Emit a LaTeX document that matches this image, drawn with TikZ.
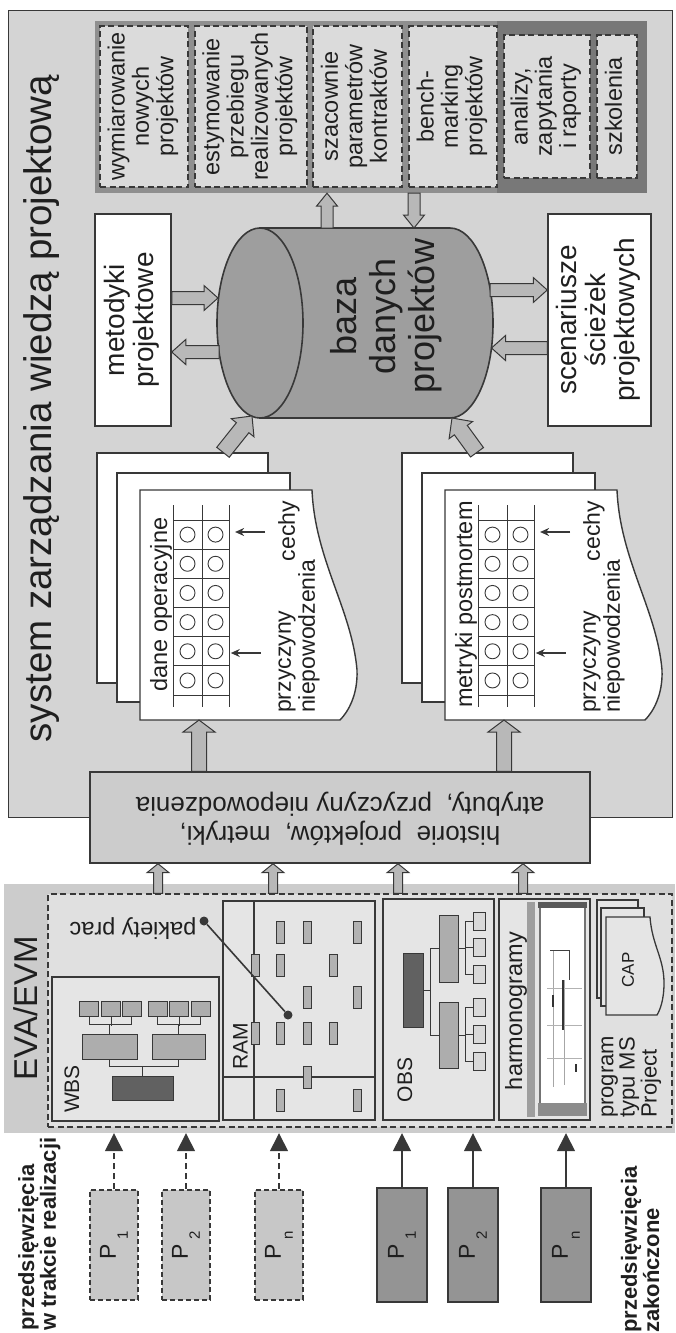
\documentclass[tikz,border=0pt]{standalone}
\usepackage{fontspec}
\setmainfont{Liberation Sans}
\usepackage{graphicx}
\definecolor{kwbg}{gray}{0.83}
\definecolor{kwpanel}{gray}{0.86}
\definecolor{kwframe}{gray}{0.56}
\definecolor{kwdark}{gray}{0.47}
\definecolor{kwdb}{gray}{0.62}
\definecolor{kwhist}{gray}{0.80}
\definecolor{kwhalo}{gray}{0.80}
\definecolor{kweva}{gray}{0.90}
\definecolor{kwpdash}{gray}{0.78}
\definecolor{kwpdone}{gray}{0.58}
\definecolor{kwline}{gray}{0.22}
\definecolor{kwtext}{gray}{0.12}
\usepackage{tikz}
\usetikzlibrary{arrows.meta,calc}
\newcommand{\vt}[2][c]{\rotatebox{90}{\begin{tabular}{@{}#1@{}}#2\end{tabular}}}
\newcommand{\psub}[1]{\rotatebox{90}{P\kern5pt\raisebox{-12pt}{\fontsize{15}{15}\selectfont #1}}}
% hollow arrow: from, to, shaft half width, head half width, head length
\newcommand{\fatarrow}[5]{%
  \coordinate (fa-b) at ($(#2)!#5!(#1)$);
  \draw[fatarr] ($(#1)!#3!90:(#2)$) -- ($(fa-b)!#3!90:(#2)$) -- ($(fa-b)!#4!90:(#2)$)
    -- (#2) -- ($(fa-b)!#4!-90:(#2)$) -- ($(fa-b)!#3!-90:(#2)$) -- ($(#1)!#3!-90:(#2)$) -- cycle;}

\begin{document}
\begin{tikzpicture}[x=1pt,y=-1pt,
  every node/.style={inner sep=0pt,text=kwtext},
  wh/.style 2 args={minimum width=#1pt,minimum height=#2pt},
  sysbox/.style={draw=kwline,line width=1pt,fill=kwbg},
  dbox/.style={draw=kwline,line width=1.4pt,dash pattern=on 6pt off 3.5pt,fill=kwpanel},
  wbox/.style={draw=kwline,line width=1.5pt,fill=white},
  panel/.style={draw=kwline,line width=1.4pt,fill=kweva},
  sheet/.style={draw=kwline,line width=1.4pt,fill=white},
  grid/.style={draw=kwline,line width=0.9pt},
  tree/.style={draw=kwline,line width=1pt},
  tn/.style={draw=kwline,line width=1pt,fill=black!32},
  bar/.style={draw=kwline,line width=1pt,fill=black!30,minimum width=8pt,minimum height=22pt},
  dot/.style={circle,fill=kwline,minimum size=9pt},
  fatarr/.style={draw=kwline,fill=black!28,line width=1pt},
  parr/.style={draw=kwline,line width=1.5pt,-{Triangle[length=18pt,width=18pt]}},
  smallarr/.style={draw=kwline,line width=1.2pt,-{Stealth[length=9pt,width=8pt]}},
  ftitle/.style={font=\fontsize{38.5}{40}\selectfont},
  fdb/.style={font=\fontsize{36}{39}\selectfont},
  fbig/.style={font=\fontsize{28}{29}\selectfont},
  fmid/.style={font=\fontsize{23.5}{24}\selectfont},
  fwhy/.style={font=\fontsize{23}{24}\selectfont},
  fhist/.style={font=\fontsize{26}{29}\selectfont},
  fsmall/.style={font=\fontsize{21}{21}\selectfont},
  flab/.style={font=\fontsize{22}{20}\selectfont\bfseries}]
\useasboundingbox (0,0) rectangle (675,1333);

% knowledge management system
\node[sysbox,wh={664}{807}] (sys) at (340,413.5) {};
\node[ftitle] (title) at (42,408.5) {\rotatebox{90}{system zarządzania wiedzą projektową}};

% applications
\node[wh={552}{172},fill=kwframe] (tools) at (371,107) {};
\node[wh={150}{172},fill=kwdark] (tools2) at (572,107) {};
\node[dbox,wh={88}{161},fmid] (b1) at (144,106.5) {\vt{wymiarowanie\\nowych\\projektów}};
\node[dbox,wh={112}{161},fmid] (b2) at (251,106.5) {\vt{estymowanie\\przebiegu\\realizowanych\\projektów}};
\node[dbox,wh={89}{161},fmid] (b3) at (357.5,106.5) {\vt{szacownie\\parametrów\\kontraktów}};
\node[dbox,wh={88}{161},fmid] (b4) at (453,106.5) {\vt{bench-\\marking\\projektów}};
\node[dbox,wh={86}{143},fmid] (b5) at (547,106.5) {\vt{analizy,\\zapytania\\i raporty}};
\node[dbox,wh={40}{143},fmid] (b6) at (617,106.5) {\vt{szkolenia}};

\node[wbox,wh={76}{212},fbig] (meto) at (133,320) {\vt{metodyki\\projektowe}};
\node[wbox,wh={103}{212},fbig] (scen) at (599.5,320) {\vt{scenariusze\\ścieżek\\projektowych}};

% database
\draw[fill=kwdb,draw=kwline,line width=1.6pt] (260,228) -- (450,228)
  .. controls (473.7,228) and (493,270.5) .. (493,323)
  .. controls (493,375.5) and (473.7,418) .. (450,418) -- (260,418) -- cycle;
\draw[fill=kwdb,draw=kwline,line width=1.6pt] (260,323) ellipse [x radius=43, y radius=95];
\node[fdb] (db) at (388,316) {\vt{baza\\danych\\projektów}};
\coordinate (dbA) at (218,298);
\coordinate (dbB) at (219,352);
\coordinate (dbC) at (490,290);
\coordinate (dbD) at (491.5,348);
\coordinate (dbE) at (327,228);
\coordinate (dbF) at (414,228);
\coordinate (dbG) at (252,416);
\coordinate (dbH) at (452,418);

% document stacks
\foreach \dx/\nm/\doctext in {0/ops/dane operacyjne,305/pm/metryki postmortem}{
  \begin{scope}[xshift=\dx pt]
    \node[sheet,wh={171}{230}] (\nm-back) at (182.5,568) {};
    \node[sheet,wh={173}{229}] (\nm-mid) at (203.5,587.5) {};
    \draw[sheet] (140,490) -- (312,490) .. controls (315,560) and (352,610) .. (357,670)
      .. controls (358,695) and (348,712) .. (340,720) -- (140,720) -- cycle;
    \coordinate (\nm-foot) at (199,720);
    \foreach \gx in {173,202,229} \draw[grid] (\gx,505) -- (\gx,707);
    \foreach \gy in {0,...,6} \draw[grid] (173,{520+29.17*\gy}) -- (229,{520+29.17*\gy});
    \foreach \gy in {0,...,5} \foreach \gx in {187.5,215.5}
      \draw[grid] (\gx,{534.6+29.17*\gy}) circle[radius=7.5];
    \node[fmid] (\nm-lab) at (161,604.5) {\rotatebox{90}{\doctext}};
    \node[fwhy] (\nm-cechy) at (289,531) {\rotatebox{90}{cechy}};
    \node[fwhy,anchor=south] (\nm-why) at (298,713) {\vt[l]{przyczyny\\niepowodzenia}};
    \draw[smallarr] ($(\nm-cechy.west)+(-13,1)$) -- ++(-30,0);
    \draw[smallarr] ($(\nm-why.west |- 0,653)+(-13,0)$) -- ++(-30,0);
  \end{scope}}

% project histories
\node[draw=kwline,line width=1.4pt,fill=kwhist,wh={500}{91},fhist] (hist) at (340,817.5)
  {\rotatebox{180}{\begin{tabular}{@{}c@{}}historie\ \ projektów,\ \ metryki,\\atrybuty,\ \ przyczyny niepowodzenia\end{tabular}}};

% EVA/EVM tools
\node[fill=kwhalo,wh={671}{249}] (evabg) at (339.5,1008.5) {};
\node[dbox,fill=black!12,wh={624}{233}] (eva) at (360,1010.5) {};
\node[font=\fontsize{33}{33}\selectfont] (evalab) at (26,1008) {\rotatebox{90}{EVA/EVM}};
\node[panel,wh={167}{144}] (wbs) at (135.5,1049) {};
\node[panel,wh={152}{219}] (ram) at (299,1010.5) {};
\node[panel,wh={111}{221}] (obs) at (438.5,1009.5) {};
\node[panel,wh={91}{221}] (harm) at (544.5,1009.5) {};
\node[fsmall] (wbslab) at (72,1089) {\rotatebox{90}{WBS}};
\node[fsmall] (ramlab) at (240.5,1046) {\rotatebox{90}{RAM}};
\node[fsmall] (obslab) at (405,1080) {\rotatebox{90}{OBS}};
\node[fmid] (harmlab) at (516,1011) {\rotatebox{90}{harmonogramy}};

% WBS tree
\node[tn,fill=black!62,wh={61}{24}] (wr) at (142.5,1088) {};
\node[tn,wh={55}{25}] (w1) at (109.5,1046.5) {};
\node[tn,wh={53}{25}] (w2) at (178.5,1046.5) {};
\foreach \lx [count=\i] in {89,111,131.5,157.5,179,200.5}
  \node[tn,wh={19}{15}] (wl\i) at (\lx,1008.5) {};
\draw[tree] (wr.north) -- ++(0,-9) coordinate (wj);
\draw[tree] (w1.south) |- (wj) -| (w2.south);
\draw[tree] (w1.north) -- ++(0,-9);
\draw[tree] (w2.north) -- ++(0,-9);
\draw[tree] (wl1.south) |- ($(w1.north)+(0,-9)$) -| (wl3.south);
\draw[tree] (wl2.south) -- ++(0,9);
\draw[tree] (wl4.south) |- ($(w2.north)+(0,-9)$) -| (wl6.south);
\draw[tree] (wl5.south) -- ++(0,9);

% RAM matrix
\draw[tree,line width=1.3pt] (ram.north -| 254,0) -- (ram.south -| 254,0);
\draw[tree,line width=1.3pt] (ram.west |- 0,1077) -- (ram.east |- 0,1077);
\foreach \bx/\by in {280/932,307/932,357/932,255/965,280/965,333/965,307/997,357/997,
  255/1033,280/1033,307/1033,333/1033,307/1077,280/1100,357/1100}
  \node[bar] (r\bx-\by) at (\bx,\by) {};
\node[fmid] (pak) at (133,929) {\rotatebox{180}{pakiety prac}};
\node[dot] (pd1) at (204,921) {};
\node[dot] (pd2) at (288,1015) {};
\draw[kwline,line width=1.6pt] (pd1) -- (pd2);

% OBS tree
\node[tn,fill=black!62,wh={20}{74}] (or) at (413,990) {};
\node[tn,wh={19}{67}] (o1) at (448.5,948.5) {};
\node[tn,wh={19}{66}] (o2) at (448.5,1035) {};
\foreach \ly [count=\i] in {921,947.5,974,1007.5,1034,1061}
  \node[tn,fill=black!15,wh={12}{18}] (ol\i) at (479,\ly) {};
\draw[tree] (or.east) -- ++(7,0) coordinate (oj);
\draw[tree] (o1.west) -| (oj) |- (o2.west);
\draw[tree] (o1.east) -- ++(7,0);
\draw[tree] (o2.east) -- ++(7,0);
\draw[tree] (ol1.west) -| ($(o1.east)+(7,0)$) |- (ol3.west);
\draw[tree] (ol2.west) -- ++(-8,0);
\draw[tree] (ol4.west) -| ($(o2.east)+(7,0)$) |- (ol6.west);
\draw[tree] (ol5.west) -- ++(-8,0);

% schedule screenshot
\fill[black!38] (527,902) rectangle (535,1117);
\draw[black!55,line width=2.5pt,fill=white] (540,905) rectangle (585,1114);
\fill[black!65] (538,902) rectangle (587,908);
\fill[black!45] (538,1103) rectangle (587,1116);
\draw[black!35,line width=0.5pt] (553,950) -- (553,1087);
\draw[black!35,line width=0.5pt] (564,980) -- (564,1085);
\draw[black!30,line width=0.5pt] (547,988) -- (582,988);
\draw[black!30,line width=0.5pt] (547,1025) -- (582,1025);
\draw[black!30,line width=0.5pt] (547,1058) -- (582,1058);
\draw[black!75,line width=0.9pt] (550,950) -- (569,950) -- (569,980);
\draw[black!80,line width=1.6pt] (563,980) -- (563,1030);
\draw[black!80,line width=1.6pt] (553,995) -- (553,1007);
\draw[black!80,line width=1.6pt] (576,1064) -- (576,1072);

% MS Project
\node[draw=kwline,line width=1.3pt,fill=black!10,wh={41}{98}] (cap1) at (617.5,949) {};
\node[draw=kwline,line width=1.3pt,fill=black!10,wh={43}{98}] (cap2) at (622.5,957) {};
\draw[draw=kwline,line width=1.3pt,fill=black!10] (606,917) -- (650,917)
  .. controls (652,945) and (664,958) .. (664,983)
  .. controls (664,1000) and (660,1010) .. (657,1015) -- (606,1015) -- cycle;
\node[font=\fontsize{17}{17}\selectfont] (cap) at (628,970) {\rotatebox{90}{CAP}};
\node[font=\fontsize{22}{20}\selectfont,anchor=south] (prog) at (631,1118) {\vt[l]{program\\typu MS\\Project}};

% projects
\foreach \px/\nm/\s in {114/pa1/1,186/pa2/2,279/pan/n}{
  \node[draw=kwline,line width=1.3pt,dash pattern=on 5pt off 3pt,fill=kwpdash,wh={48}{110},
    font=\fontsize{23}{23}\selectfont] (\nm) at (\px,1245) {\psub{\s}};
  \draw[parr,dash pattern=on 6pt off 4pt] (\nm.north) -- (\nm.north |- evabg.south);}
\foreach \px/\nm/\s in {402/pb1/1,473/pb2/2,566/pbn/n}{
  \node[draw=kwline,line width=1.6pt,fill=kwpdone,wh={50}{114},
    font=\fontsize{23}{23}\selectfont] (\nm) at (\px,1245) {\psub{\s}};
  \draw[parr] (\nm.north) -- (\nm.north |- evabg.south);}
\node[flab,anchor=south] (lab1) at (40,1331) {\vt[l]{przedsięwzięcia\\w trakcie realizacji}};
\node[flab,anchor=south] (lab2) at (643,1333) {\vt[l]{przedsięwzięcia\\zakończone}};

% hollow arrows
\fatarrow{meto.east |- 0,298}{dbA}{6.5pt}{12.5pt}{14pt}
\fatarrow{dbB}{meto.east |- 0,352}{6.5pt}{12.5pt}{14pt}
\fatarrow{dbC}{scen.west |- 0,290}{6.5pt}{12.5pt}{14pt}
\fatarrow{scen.west |- 0,348}{dbD}{6.5pt}{12.5pt}{14pt}
\fatarrow{dbE}{tools.south -| 327,0}{6pt}{10.5pt}{13pt}
\fatarrow{tools.south -| 414,0}{dbF}{6pt}{10.5pt}{13pt}
\fatarrow{ops-back.north -| 223,0}{dbG}{8pt}{14.5pt}{15pt}
\fatarrow{pm-back.north -| 477,0}{dbH}{8pt}{14.5pt}{15pt}
\fatarrow{hist.north -| ops-foot}{ops-foot}{7.5pt}{16pt}{12pt}
\fatarrow{hist.north -| pm-foot}{pm-foot}{7.5pt}{16pt}{12pt}
\foreach \ax in {158,273,398,523}{
  \fatarrow{eva.north -| \ax,0}{hist.south -| \ax,0}{4.5pt}{11pt}{9pt}}
\end{tikzpicture}
\end{document}
